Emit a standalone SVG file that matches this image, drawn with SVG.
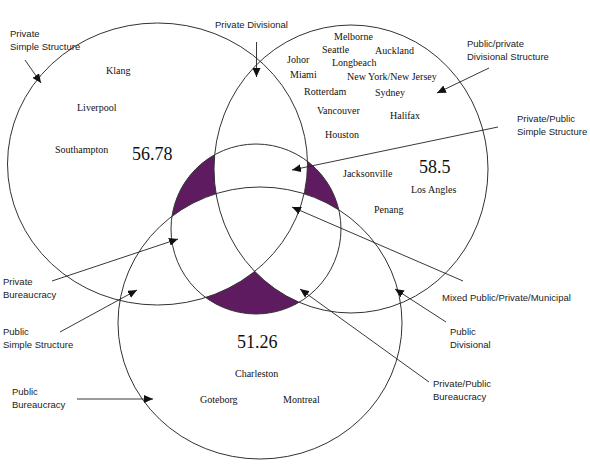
<svg xmlns="http://www.w3.org/2000/svg" width="590" height="476" viewBox="0 0 590 476">
<style>
.c{fill:none;stroke:#333;stroke-width:1}
.lbl{font-family:"Liberation Sans",Arial,sans-serif;font-size:9.5px;fill:#222}
.city{font-family:"Liberation Serif","Times New Roman",serif;font-size:10px;fill:#111}
.num{font-family:"Liberation Serif","Times New Roman",serif;font-size:18px;fill:#111}
.ar{fill:none;stroke:#222;stroke-width:0.9;marker-end:url(#ah)}
.pur{fill:#5f1b5f}
</style>
<defs>
<marker id="ah" markerUnits="userSpaceOnUse" markerWidth="10" markerHeight="8" refX="9" refY="4" orient="auto">
<path d="M0,0 L9,4 L0,8 Z" fill="#111"/>
</marker>
<clipPath id="clipA"><ellipse cx="157.5" cy="164" rx="150" ry="141"/></clipPath>
<clipPath id="clipB"><ellipse cx="351" cy="169" rx="137" ry="144"/></clipPath>
<clipPath id="clipC"><ellipse cx="260" cy="323" rx="142" ry="136"/></clipPath>
<mask id="notBC" maskUnits="userSpaceOnUse" x="0" y="0" width="590" height="476">
<rect x="0" y="0" width="590" height="476" fill="#fff"/>
<ellipse cx="351" cy="169" rx="137" ry="144" fill="#000"/>
<ellipse cx="260" cy="323" rx="142" ry="136" fill="#000"/>
</mask>
<mask id="notAC" maskUnits="userSpaceOnUse" x="0" y="0" width="590" height="476">
<rect x="0" y="0" width="590" height="476" fill="#fff"/>
<ellipse cx="157.5" cy="164" rx="150" ry="141" fill="#000"/>
<ellipse cx="260" cy="323" rx="142" ry="136" fill="#000"/>
</mask>
<mask id="notAB" maskUnits="userSpaceOnUse" x="0" y="0" width="590" height="476">
<rect x="0" y="0" width="590" height="476" fill="#fff"/>
<ellipse cx="157.5" cy="164" rx="150" ry="141" fill="#000"/>
<ellipse cx="351" cy="169" rx="137" ry="144" fill="#000"/>
</mask>
</defs>
<rect x="0" y="0" width="590" height="476" fill="#fff"/>

<g id="shaded">
<g clip-path="url(#clipA)"><circle class="pur" cx="256" cy="229" r="85" mask="url(#notBC)"/></g>
<g clip-path="url(#clipB)"><circle class="pur" cx="256" cy="229" r="85" mask="url(#notAC)"/></g>
<g clip-path="url(#clipC)"><circle class="pur" cx="256" cy="229" r="85" mask="url(#notAB)"/></g>
</g>

<g id="circle-private">
<ellipse class="c" cx="157.5" cy="164" rx="150" ry="141"/>
<text class="city" x="106" y="74">Klang</text>
<text class="city" x="77" y="111">Liverpool</text>
<text class="city" x="55" y="153">Southampton</text>
<text class="num" x="132" y="160">56.78</text>
</g>

<g id="circle-public-private">
<ellipse class="c" cx="351" cy="169" rx="137" ry="144"/>
<text class="city" x="334" y="40">Melborne</text>
<text class="city" x="322" y="53">Seattle</text>
<text class="city" x="375" y="54">Auckland</text>
<text class="city" x="287" y="63">Johor</text>
<text class="city" x="332" y="66">Longbeach</text>
<text class="city" x="290" y="78">Miami</text>
<text class="city" x="347" y="80">New York/New Jersey</text>
<text class="city" x="304" y="95">Rotterdam</text>
<text class="city" x="375" y="96">Sydney</text>
<text class="city" x="317" y="114">Vancouver</text>
<text class="city" x="390" y="119">Halifax</text>
<text class="city" x="325" y="138">Houston</text>
<text class="city" x="343" y="177">Jacksonville</text>
<text class="num" x="419" y="173">58.5</text>
<text class="city" x="411" y="193">Los Angles</text>
<text class="city" x="374" y="213">Penang</text>
</g>

<g id="circle-public">
<ellipse class="c" cx="260" cy="323" rx="142" ry="136"/>
<text class="num" x="237" y="348">51.26</text>
<text class="city" x="235" y="377">Charleston</text>
<text class="city" x="200" y="403">Goteborg</text>
<text class="city" x="283" y="403">Montreal</text>
</g>

<g id="circle-mixed">
<circle class="c" cx="256" cy="229" r="85"/>
</g>

<g id="labels">
<text class="lbl" x="10" y="37">Private</text>
<text class="lbl" x="10" y="50">Simple Structure</text>
<text class="lbl" x="215" y="28">Private Divisional</text>
<text class="lbl" x="467" y="47">Public/private</text>
<text class="lbl" x="467" y="60">Divisional Structure</text>
<text class="lbl" x="517" y="122">Private/Public</text>
<text class="lbl" x="517" y="135">Simple Structure</text>
<text class="lbl" x="442" y="301">Mixed Public/Private/Municipal</text>
<text class="lbl" x="450" y="335">Public</text>
<text class="lbl" x="450" y="348">Divisional</text>
<text class="lbl" x="433" y="387">Private/Public</text>
<text class="lbl" x="433" y="400">Bureaucracy</text>
<text class="lbl" x="3" y="285">Private</text>
<text class="lbl" x="3" y="298">Bureaucracy</text>
<text class="lbl" x="3" y="335">Public</text>
<text class="lbl" x="3" y="348">Simple Structure</text>
<text class="lbl" x="12" y="395">Public</text>
<text class="lbl" x="12" y="408">Bureaucracy</text>
</g>

<g id="connectors">
<line class="ar" x1="25" y1="60" x2="41" y2="83"/>
<line class="ar" x1="256.5" y1="42" x2="256.5" y2="77"/>
<line class="ar" x1="489" y1="68" x2="437" y2="93"/>
<line class="ar" x1="498" y1="127" x2="292" y2="170"/>
<line class="ar" x1="463" y1="281" x2="292" y2="207"/>
<line class="ar" x1="446" y1="322" x2="395" y2="289"/>
<line class="ar" x1="429" y1="382" x2="300" y2="289"/>
<line class="ar" x1="52" y1="281" x2="178" y2="239"/>
<line class="ar" x1="60" y1="332" x2="137" y2="290"/>
<line class="ar" x1="77" y1="399" x2="153" y2="399"/>
</g>
</svg>
